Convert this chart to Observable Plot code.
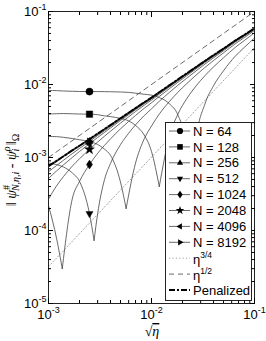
<!DOCTYPE html>
<html><head><meta charset="utf-8">
<script src="https://cdn.jsdelivr.net/npm/d3@7"></script>
<script src="https://cdn.jsdelivr.net/npm/@observablehq/plot@0.6"></script>
<style>html,body{margin:0;padding:0;background:#fff;} svg{display:block;}</style>
</head><body>
<script>
// ---- data ----
const sqrtEta = [1e-3,1.2e-3,1.4e-3,1.7e-3,2e-3,2.5e-3,3e-3,3.5e-3,4e-3,5e-3,6e-3,7e-3,8.5e-3,1e-2,1.2e-2,1.5e-2,1.8e-2,2.2e-2,2.7e-2,3.3e-2,4e-2,5e-2,6.5e-2,8e-2,1e-1];
const err64   = [8.3e-3,8.24e-3,8.15e-3,8.07e-3,8.02e-3,8.0e-3,8.0e-3,7.98e-3,7.95e-3,7.9e-3,7.8e-3,7.6e-3,7.35e-3,7.15e-3,6.6e-3,5.4e-3,3.85e-3,1.4e-3,1.7e-3,5.4e-3,9.6e-3,1.54e-2,2.44e-2,3.24e-2,4.34e-2];
const err128  = [3.93e-3,3.98e-3,4.0e-3,3.97e-3,3.94e-3,3.92e-3,3.86e-3,3.72e-3,3.63e-3,3.43e-3,3.17e-3,2.75e-3,2.03e-3,1.21e-3,null,2.0e-3,3.9e-3,6.4e-3,9.5e-3,1.32e-2,1.74e-2,2.32e-2,3.22e-2,4.02e-2,5.12e-2];
const err256  = [1.94e-3,1.93e-3,1.89e-3,1.82e-3,1.75e-3,1.66e-3,1.51e-3,1.3e-3,1.07e-3,4.6e-4,null,8.4e-4,1.8e-3,2.7e-3,4.0e-3,5.9e-3,7.8e-3,1.03e-2,1.34e-2,1.71e-2,2.13e-2,2.71e-2,3.61e-2,4.41e-2,5.51e-2];
const err512  = [8.4e-4,8.0e-4,7.4e-4,6.15e-4,4.7e-4,1.7e-4,1.7e-4,5.0e-4,8.3e-4,1.5e-3,2.15e-3,2.8e-3,3.75e-3,4.65e-3,5.95e-3,7.85e-3,9.75e-3,1.22e-2,1.53e-2,1.9e-2,2.32e-2,2.9e-2,3.8e-2,4.6e-2,5.7e-2];
const err1024 = [2.2e-4,7.7e-5,null,2.7e-4,4.7e-4,8.0e-4,1.14e-3,1.47e-3,1.8e-3,2.47e-3,3.12e-3,3.77e-3,4.72e-3,5.62e-3,6.92e-3,8.82e-3,1.07e-2,1.32e-2,1.63e-2,2.0e-2,2.42e-2,3.0e-2,3.9e-2,4.7e-2,5.8e-2];
const err2048 = [2.7e-4,4.1e-4,5.5e-4,7.6e-4,9.6e-4,1.29e-3,1.63e-3,1.96e-3,2.29e-3,2.96e-3,3.61e-3,4.26e-3,5.21e-3,6.11e-3,7.41e-3,9.31e-3,1.12e-2,1.37e-2,1.68e-2,2.05e-2,2.47e-2,3.05e-2,3.95e-2,4.75e-2,5.85e-2];
const err4096 = [5.16e-4,6.56e-4,7.96e-4,1.0e-3,1.21e-3,1.54e-3,1.88e-3,2.21e-3,2.54e-3,3.21e-3,3.86e-3,4.51e-3,5.46e-3,6.36e-3,7.66e-3,9.56e-3,1.15e-2,1.4e-2,1.71e-2,2.08e-2,2.5e-2,3.08e-2,3.98e-2,4.78e-2,5.88e-2];
const err8192 = [6.38e-4,7.78e-4,9.18e-4,1.13e-3,1.33e-3,1.66e-3,2.0e-3,2.33e-3,2.66e-3,3.33e-3,3.98e-3,4.63e-3,5.58e-3,6.48e-3,7.78e-3,9.68e-3,1.16e-2,1.41e-2,1.72e-2,2.09e-2,2.51e-2,3.09e-2,3.99e-2,4.79e-2,5.89e-2];
const penalized = [7.6e-4,9.0e-4,1.04e-3,1.25e-3,1.45e-3,1.78e-3,2.12e-3,2.45e-3,2.78e-3,3.45e-3,4.1e-3,4.75e-3,5.7e-3,6.6e-3,7.9e-3,9.8e-3,1.17e-2,1.42e-2,1.73e-2,2.1e-2,2.52e-2,3.1e-2,4.0e-2,4.8e-2,5.9e-2];
// cusps (sign change of the error) for the coarser grids
const cuspN   = [64, 128, 256, 512, 1024];
const cuspX   = [2.42e-2, 1.19e-2, 5.67e-3, 2.77e-3, 1.36e-3];
const cuspErr = [1.0e-4, 4.0e-4, 2.0e-4, 7.3e-5, 3.0e-5];
// reference slopes
const refX = [1e-3, 1e-1];
const etaHalf = [1e-3, 1e-1];
const etaThreeQuarter = [3.2e-5, 3.2e-2];
// markers
const markerX = 2.5e-3;
const seriesN = [64, 128, 256, 512, 1024, 2048, 4096, 8192];
const seriesErr = [err64, err128, err256, err512, err1024, err2048, err4096, err8192];
const majorX = [1e-3, 1e-2, 1e-1];
const majorY = [1e-5, 1e-4, 1e-3, 1e-2, 1e-1];

// ---- symbols ----
function mk(pts){ return {draw(ctx, size){ const r = Math.sqrt(size/Math.PI); ctx.moveTo(pts[0][0]*r, pts[0][1]*r); for (let i=1;i<pts.length;i++) ctx.lineTo(pts[i][0]*r, pts[i][1]*r); ctx.closePath(); }}; }
const triUp = mk([[0,-1.15],[1.0,0.6],[-1.0,0.6]]);
const triDown = mk([[0,1.15],[1.0,-0.6],[-1.0,-0.6]]);
const triLeft = mk([[-1.15,0],[0.6,1.0],[0.6,-1.0]]);
const triRight = mk([[1.15,0],[-0.6,1.0],[-0.6,-1.0]]);
const diamond = mk([[0,-1.25],[0.85,0],[0,1.25],[-0.85,0]]);
const starPts = []; for (let i=0;i<10;i++){ const a = -Math.PI/2 + i*Math.PI/5; const rr = i%2===0 ? 1.45 : 0.58; starPts.push([rr*Math.cos(a), rr*Math.sin(a)]); }
const star = mk(starPts);
const square = mk([[-0.9,-0.9],[0.9,-0.9],[0.9,0.9],[-0.9,0.9]]);
const circle = d3.symbolCircle;
const seriesSymbol = [circle, square, triUp, triDown, diamond, star, triLeft, triRight];

// ---- rows ----
const curveRows = [];
seriesN.forEach((n, i) => {
  const errs = seriesErr[i];
  const c = cuspN.indexOf(n);
  sqrtEta.forEach((x, j) => {
    if (errs[j] == null) return;
    const branch = c >= 0 && x > cuspX[c] ? "R" : "L";
    curveRows.push({x, y: errs[j], key: n + branch});
  });
  if (c >= 0) {
    curveRows.push({x: cuspX[c], y: cuspErr[c], key: n + "L"});
    curveRows.push({x: cuspX[c], y: cuspErr[c], key: n + "R"});
  }
});
curveRows.sort((a, b) => a.x - b.x);
const penRows = sqrtEta.map((x, j) => ({x, y: penalized[j]}));
const halfRows = refX.map((x, j) => ({x, y: etaHalf[j]}));
const tqRows = refX.map((x, j) => ({x, y: etaThreeQuarter[j]}));
const mIdx = sqrtEta.indexOf(markerX);
const dotMarks = seriesN.map((n, i) => Plot.dot([{x: markerX, y: seriesErr[i][mIdx]}], {x: "x", y: "y", symbol: seriesSymbol[i], r: 3.6, fill: "#000", stroke: "#000", strokeWidth: 0.4}));

const minorX = d3.scaleLog().domain([1e-3, 1e-1]).ticks().filter(v => !majorX.some(m => Math.abs(m - v) / m < 1e-6));
const minorY = d3.scaleLog().domain([1e-5, 1e-1]).ticks().filter(v => !majorY.some(m => Math.abs(m - v) / m < 1e-6));
const fmtPow = d => "10^" + Math.round(Math.log10(d));
const blank = () => "";

const chart = Plot.plot({
  width: 266, height: 341,
  marginLeft: 48, marginRight: 12, marginTop: 11, marginBottom: 38,
  x: {type: "log", domain: [1e-3, 1e-1]},
  y: {type: "log", domain: [1e-5, 1e-1]},
  style: {fontFamily: "'Liberation Sans', Arial, sans-serif", fontSize: "13px", background: "#fff", color: "#000"},
  marks: [
    Plot.line(tqRows, {x: "x", y: "y", stroke: "#9a9a9a", strokeWidth: 0.9, strokeDasharray: "1.2,2.2", clip: true}),
    Plot.line(halfRows, {x: "x", y: "y", stroke: "#444", strokeWidth: 0.8, strokeDasharray: "5,4", clip: true}),
    Plot.line(curveRows, {x: "x", y: "y", z: "key", curve: "monotone-x", stroke: "#444", strokeWidth: 0.8, clip: true}),
    Plot.line(penRows, {x: "x", y: "y", stroke: "#000", strokeWidth: 2, strokeDasharray: "6,2,2,2", clip: true}),
    ...dotMarks,
    Plot.frame({stroke: "#222", strokeWidth: 1}),
    Plot.axisX({ticks: majorX, tickSize: -5, tickPadding: 11, tickFormat: fmtPow, label: null}),
    Plot.axisX({ticks: minorX, tickSize: -3, tickFormat: blank, label: null}),
    Plot.axisX({anchor: "top", ticks: majorX, tickSize: -5, tickFormat: blank, label: null}),
    Plot.axisX({anchor: "top", ticks: minorX, tickSize: -3, tickFormat: blank, label: null}),
    Plot.axisY({ticks: majorY, tickSize: -5, tickPadding: 7, tickFormat: fmtPow, label: null}),
    Plot.axisY({ticks: minorY, tickSize: -3, tickFormat: blank, label: null}),
    Plot.axisY({anchor: "right", ticks: majorY, tickSize: -5, tickFormat: blank, label: null}),
    Plot.axisY({anchor: "right", ticks: minorY, tickSize: -3, tickFormat: blank, label: null})
  ]
});
document.body.appendChild(chart);

const svg = d3.select(chart);
// superscript powers of ten
svg.selectAll("text").each(function() {
  const m = /^10\^(-?\d+)$/.exec(this.textContent);
  if (!m) return;
  const s = d3.select(this);
  s.text(null);
  s.append("tspan").text("10");
  s.append("tspan").attr("dy", -6).attr("font-size", 9).text(m[1]);
});

// axis titles
const ylab = svg.append("text").attr("transform", "translate(16,170) rotate(-90)")
  .attr("text-anchor", "middle").attr("font-size", 14).attr("fill", "#000")
  .attr("font-family", "'Liberation Serif', 'DejaVu Serif', serif");
ylab.append("tspan").text("\u2016 ");
ylab.append("tspan").attr("font-style", "italic").text("\u03C8");
ylab.append("tspan").attr("font-size", 10).attr("dy", -6).text("#");
ylab.append("tspan").attr("font-size", 10).attr("font-style", "italic").attr("dx", -6).attr("dy", 9).text("N,\u03B7,i");
ylab.append("tspan").attr("dy", -3).text(" - ");
ylab.append("tspan").attr("font-style", "italic").text("\u03C8");
ylab.append("tspan").attr("font-size", 10).attr("font-style", "italic").attr("dy", -6).text("\u03C1");
ylab.append("tspan").attr("font-size", 10).attr("font-style", "italic").attr("dx", -5).attr("dy", 9).text("i");
ylab.append("tspan").attr("dy", -3).text(" \u2016");
ylab.append("tspan").attr("font-size", 10).attr("dy", 3).text("\u03A9");

const xlab = svg.append("text").attr("x", 152).attr("y", 336).attr("text-anchor", "middle")
  .attr("font-size", 14).attr("fill", "#000").attr("font-family", "'Liberation Serif', 'DejaVu Serif', serif");
xlab.append("tspan").text("\u221A");
xlab.append("tspan").attr("font-style", "italic").style("text-decoration", "overline").text("\u03B7");

// legend
const lg = svg.append("g").attr("font-family", "'Liberation Sans', Arial, sans-serif").attr("font-size", 13).attr("text-anchor", "start");
lg.append("rect").attr("x", 165.5).attr("y", 122.5).attr("width", 86).attr("height", 178)
  .attr("fill", "#fff").attr("stroke", "#222").attr("stroke-width", 1);
const rowY = i => 131 + i * 15.9;
seriesN.forEach((n, i) => {
  const y = rowY(i);
  lg.append("line").attr("x1", 169).attr("x2", 190).attr("y1", y).attr("y2", y).attr("stroke", "#444").attr("stroke-width", 0.8);
  lg.append("path").attr("transform", `translate(180,${y})`).attr("d", d3.symbol(seriesSymbol[i], 3.1 * 3.1 * Math.PI)()).attr("fill", "#000");
  lg.append("text").attr("x", 193).attr("y", y).attr("dy", "0.36em").attr("text-anchor", "start").text("N = " + n);
});
{
  let y = rowY(8);
  lg.append("line").attr("x1", 169).attr("x2", 190).attr("y1", y).attr("y2", y).attr("stroke", "#9a9a9a").attr("stroke-width", 0.9).attr("stroke-dasharray", "1.2,2.2");
  let t = lg.append("text").attr("x", 193).attr("y", y + 1).attr("dy", "0.36em").attr("text-anchor", "start");
  t.append("tspan").text("\u03B7"); t.append("tspan").attr("font-size", 8.5).attr("dy", -6).text("3/4");
  y = rowY(9);
  lg.append("line").attr("x1", 169).attr("x2", 190).attr("y1", y).attr("y2", y).attr("stroke", "#444").attr("stroke-width", 0.8).attr("stroke-dasharray", "5,4");
  t = lg.append("text").attr("x", 193).attr("y", y + 1).attr("dy", "0.36em").attr("text-anchor", "start");
  t.append("tspan").text("\u03B7"); t.append("tspan").attr("font-size", 8.5).attr("dy", -6).text("1/2");
  y = rowY(10);
  lg.append("line").attr("x1", 169).attr("x2", 190).attr("y1", y).attr("y2", y).attr("stroke", "#000").attr("stroke-width", 2).attr("stroke-dasharray", "6,2,2,2");
  lg.append("text").attr("x", 193).attr("y", y).attr("dy", "0.36em").attr("text-anchor", "start").text("Penalized");
}
</script>
</body></html>
